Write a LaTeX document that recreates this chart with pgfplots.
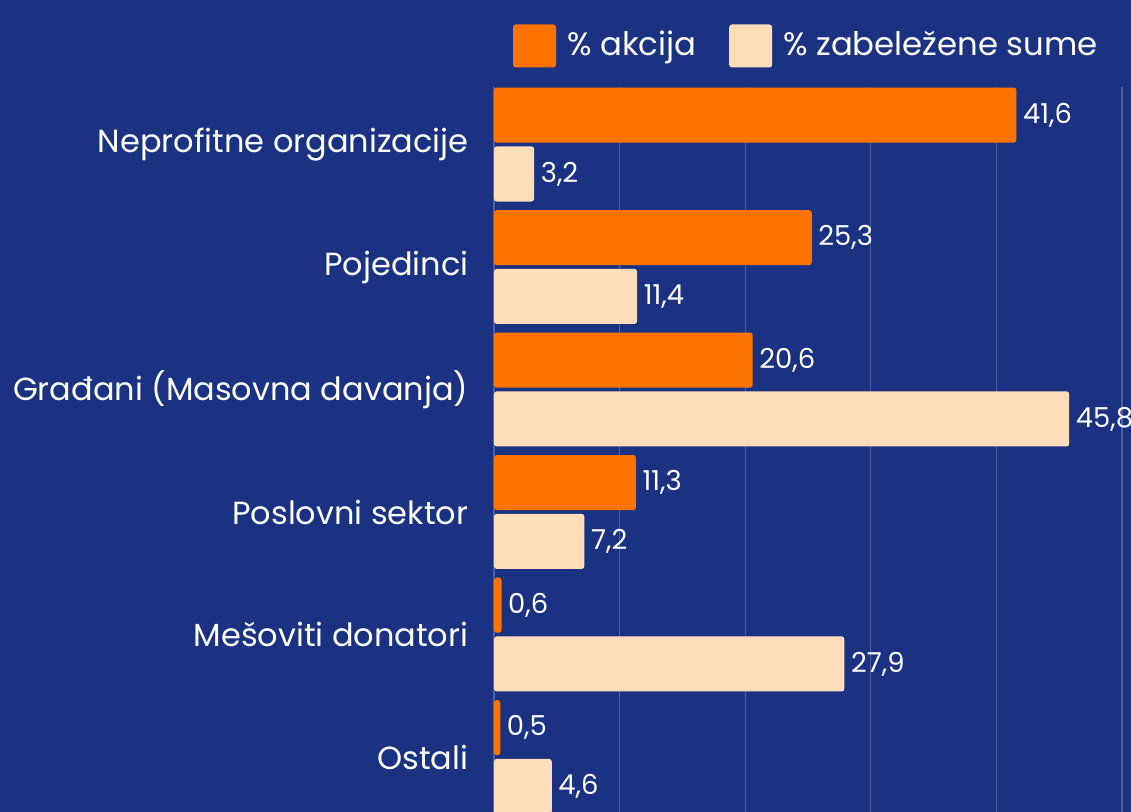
\documentclass[border=0pt]{standalone}
\usepackage{pgfplots}
\pgfplotsset{compat=1.18}
\usepackage{fontspec}
\setmainfont{Poppins}
\definecolor{bg}{HTML}{1B3282}
\definecolor{orangeC}{HTML}{FF7300}
\definecolor{peachC}{HTML}{FFDDB8}
\begin{document}
\begin{tikzpicture}
\fill[bg] (0,0) rectangle (11.31cm,8.12cm);
\useasboundingbox (0,0) rectangle (11.31cm,8.12cm);
\begin{axis}[
  at={(4.94cm,0cm)}, anchor=south west,
  scale only axis, width=6.28cm, height=7.25cm,
  xmin=0, xmax=50, ymin=-0.47, ymax=5.449,
  y dir=reverse,
  enlargelimits=false,
  axis line style={draw=none},
  tick style={draw=none},
  xtick={0,10,20,30,40,50}, xticklabels={},
  xmajorgrids, grid style={color=white!22!bg, line width=0.3pt},
  ytick={0,1,2,3,4,5},
  yticklabels={Neprofitne organizacije, Pojedinci, Građani (Masovna davanja), Poslovni sektor, Mešoviti donatori, Ostali},
  yticklabel style={font=\fontsize{9.1}{11}\selectfont, text=white, inner sep=0pt, xshift=-0.10cm},
  /pgf/number format/assume math mode=true,
  xbar, bar width=0.45,
  point meta=x,
  nodes near coords={\pgfmathprintnumber[fixed,fixed zerofill,precision=1,use comma]{\pgfplotspointmeta}},
  nodes near coords style={font=\fontsize{7.8}{9}\selectfont, text=white, inner sep=0pt, anchor=west, xshift=0.06cm},
  legend columns=2,
  legend style={at={(0.0303,1.0566)}, anchor=west, draw=none, fill=none, inner sep=0pt, outer sep=0pt,
    text=white, font=\fontsize{9.2}{11}\selectfont,
    nodes={inner sep=0pt},
    /tikz/every odd column/.style={column sep=0.11cm},
    /tikz/every even column/.style={column sep=0.33cm}},
]
\addplot[draw=none, fill=orangeC, bar shift=-0.24, rounded corners=0.8pt,
  legend image code/.code={\fill[orangeC] (0cm,-0.215cm) rectangle (0.43cm,0.215cm);}]
  coordinates {(41.6,0) (25.3,1) (20.6,2) (11.3,3) (0.6,4) (0.5,5)};
\addlegendentry{\% akcija}
\addplot[draw=none, fill=peachC, bar shift=0.24, rounded corners=0.8pt,
  legend image code/.code={\fill[peachC] (0cm,-0.215cm) rectangle (0.43cm,0.215cm);}]
  coordinates {(3.2,0) (11.4,1) (45.8,2) (7.2,3) (27.9,4) (4.6,5)};
\addlegendentry{\% zabeležene sume}
\end{axis}
\end{tikzpicture}
\end{document}
